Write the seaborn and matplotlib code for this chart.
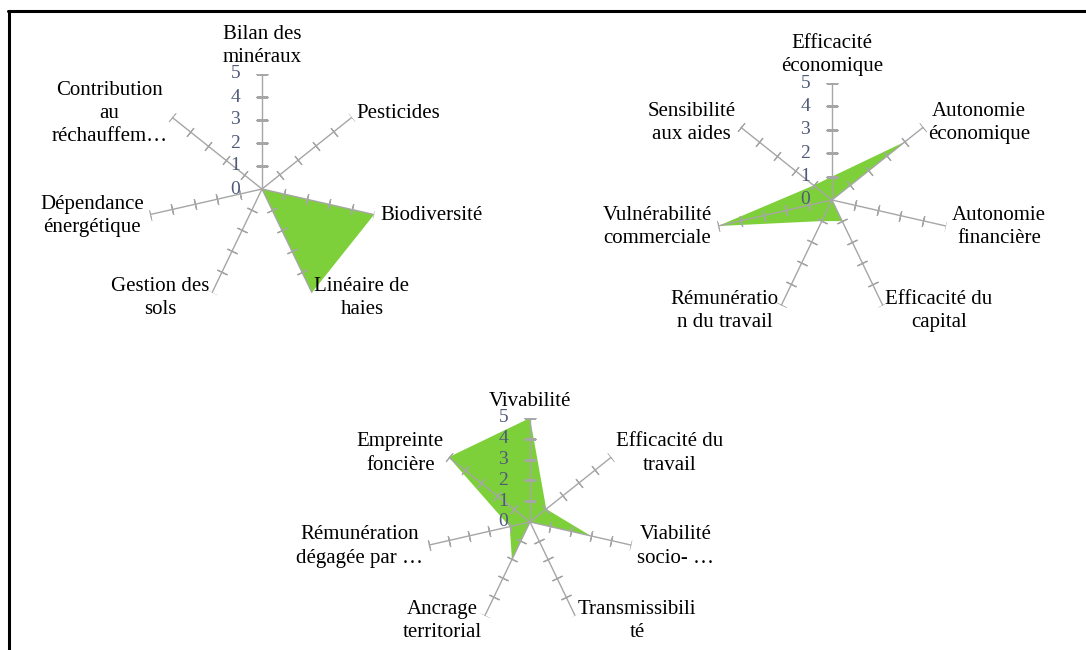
import numpy as np
import seaborn as sns
from matplotlib import pyplot as plt
from matplotlib.lines import Line2D

sns.set_style('white')
plt.rcParams['font.family'] = ['Liberation Serif', 'DejaVu Serif']

# environnement
env_labels = [
    'Bilan des\nminéraux',
    'Pesticides',
    'Biodiversité',
    'Linéaire de\nhaies',
    'Gestion des\nsols',
    'Dépendance\nénergétique',
    'Contribution\nau\nréchauffem…',
]
env_values = [0, 0, 5, 5, 0, 0, 0]

# économie
eco_labels = [
    'Efficacité\néconomique',
    'Autonomie\néconomique',
    'Autonomie\nfinancière',
    'Efficacité du\ncapital',
    'Rémunératio\nn du travail',
    'Vulnérabilité\ncommerciale',
    'Sensibilité\naux aides',
]
eco_values = [1, 4, 0, 1, 1, 5, 1]

# social / territorial
soc_labels = [
    'Vivabilité',
    'Efficacité du\ntravail',
    'Viabilité\nsocio- …',
    'Transmissibili\nté',
    'Ancrage\nterritorial',
    'Rémunération\ndégagée par …',
    'Empreinte\nfoncière',
]
soc_values = [5, 1, 3, 0, 2, 1, 5]

scale_ticks = [0, 1, 2, 3, 4, 5]

FILL = '#7ED03B'
SPOKE = '#a6a6a6'
TICK_TXT = '#4f5a7a'

W, H = 1086, 650
fig = plt.figure(figsize=(W / 100, H / 100), dpi=100)


def radar(cx, cy, radius, labels, values):
    ax = fig.add_axes(
        [(cx - radius) / W, (H - cy - radius) / H, 2 * radius / W, 2 * radius / H],
        projection='polar',
    )
    ax.set_theta_zero_location('N')
    ax.set_theta_direction(-1)
    ax.set_ylim(0, 5)
    ax.axis('off')

    n = len(labels)
    theta = np.arange(n) * 2 * np.pi / n
    ax.fill(np.append(theta, theta[0]), values + values[:1], color=FILL, lw=0, zorder=1)

    for t, lab in zip(theta, labels):
        deg = np.degrees(t)
        ax.plot([t, t], [0, 5], color=SPOKE, lw=1, zorder=2)
        ax.plot([t] * 5, scale_ticks[1:], ls='none', marker=(2, 2, 90 - deg),
                ms=8, mew=0.9, color=SPOKE, zorder=2)
        s, c = np.sin(t), np.cos(t)
        if abs(s) < 0.1:
            ha, va, off = 'center', 'bottom', (0, 7)
        else:
            ha = 'left' if s > 0 else 'right'
            va, off = 'center', (6 * s, 6 * c)
        ax.annotate(lab, (t, 5), xytext=off, textcoords='offset pixels',
                    ha=ha, va=va, multialignment='center', fontsize=15,
                    color='black', annotation_clip=False, linespacing=1.3)

    for v in scale_ticks:
        ax.annotate(str(v), (0, v), xytext=(-22, 0), textcoords='offset pixels',
                    ha='right', va='center', fontsize=14, color=TICK_TXT,
                    annotation_clip=False, zorder=3)
    return ax


radar(262, 189, 115, env_labels, env_values)
radar(832, 200, 117, eco_labels, eco_values)
radar(530, 522, 104, soc_labels, soc_values)

# cadre
fig.add_artist(Line2D([8 / W, 1], [1 - 11 / H, 1 - 11 / H], color='black', lw=2.2,
                      transform=fig.transFigure))
fig.add_artist(Line2D([9 / W, 9 / W], [0, 1 - 11 / H], color='black', lw=2.2,
                      transform=fig.transFigure))

fig.savefig('out.png', dpi=100)
